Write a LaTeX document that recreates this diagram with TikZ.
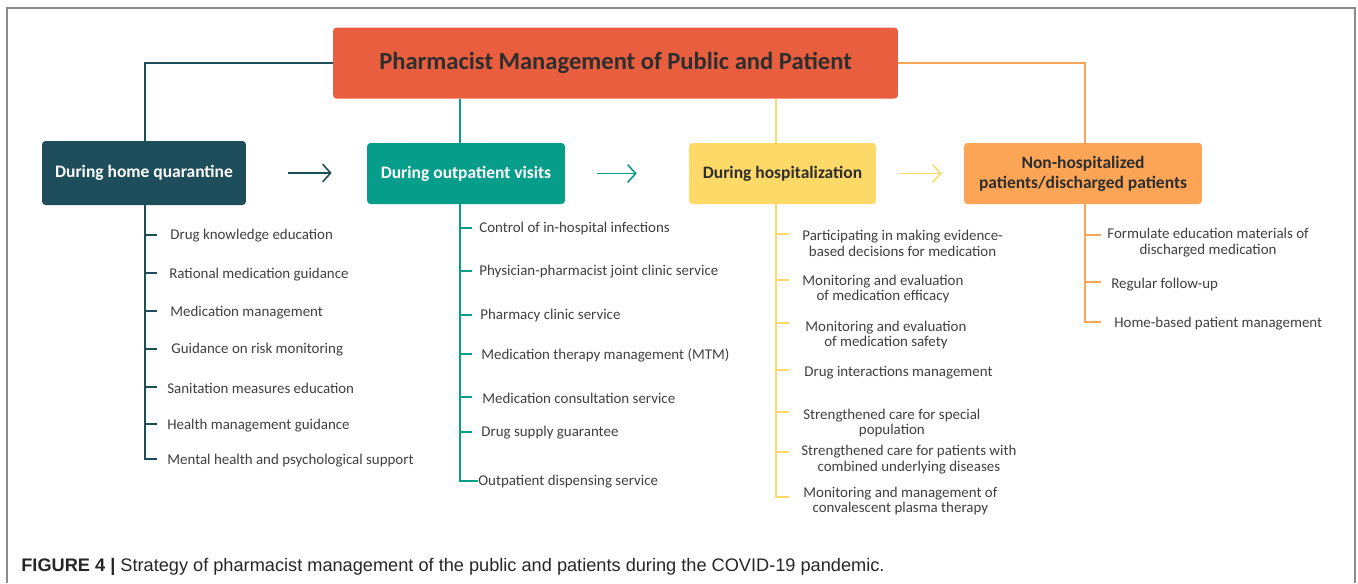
\documentclass[tikz,border=0pt]{standalone}
\usepackage{fontspec}
\setmainfont{Carlito}
\newfontfamily\capfont{Liberation Sans}
\usepackage{xcolor}
\usetikzlibrary{arrows.meta, positioning}

\definecolor{topred}{HTML}{E85E3F}
\definecolor{homeblue}{HTML}{1E4D5B}
\definecolor{outgreen}{HTML}{079D8B}
\definecolor{hospyellow}{HTML}{FDD968}
\definecolor{dischorange}{HTML}{FDA556}
\definecolor{itemgray}{HTML}{3F3F3F}
\definecolor{titlegray}{HTML}{2E2E2E}

\tikzset{
	phase/.style={fill=#1, rounded corners=2pt, inner sep=0pt, align=center,
		font=\fontsize{9.95}{11.5}\selectfont\bfseries},
	item/.style={anchor=west, inner sep=0pt, align=center, text=itemgray,
		font=\fontsize{8.5}{9.1}\selectfont},
	branch/.style={draw=#1, line width=1.1pt},
	step arrow/.style={draw=#1, line width=0.9pt, -{Straight Barb[length=4.5pt, width=10pt]}}
}

\begin{document}
\begin{tikzpicture}[x=0.02cm, y=-0.02cm]
		\useasboundingbox (0,0) rectangle (1358,583);
		\draw[gray!90, line width=0.9pt] (7,583) -- (7,8) -- (1355,8) -- (1355,583);
		
		\def\xa{145}
		\def\xb{460}
		\def\xc{776}
		\def\xd{1085}
		\coordinate (ca) at (\xa,0);
		\coordinate (cb) at (\xb,0);
		\coordinate (cc) at (\xc,0);
		\coordinate (cd) at (\xd,0);
		
		\node[fill=topred, rounded corners=2pt, minimum width=11.3cm, minimum height=1.42cm, text=titlegray,
			font=\fontsize{14}{16}\selectfont\bfseries] (top) at (615.5,63) {Pharmacist Management of Public and Patient};
		
		\node[phase=homeblue, text=white, minimum width=4.08cm, minimum height=1.28cm] (home) at (144,173) {During home quarantine};
		\node[phase=outgreen, text=white, minimum width=3.96cm, minimum height=1.22cm] (out) at (466,173.5) {During outpatient visits};
		\node[phase=hospyellow, text=titlegray, minimum width=3.74cm, minimum height=1.22cm] (hosp) at (782.5,173.5) {During hospitalization};
		\node[phase=dischorange, text=titlegray, minimum width=4.76cm, minimum height=1.22cm] (disch) at (1083,173.5) {Non-hospitalized\\patients/discharged patients};
		
		\begin{scope}[line width=1pt]
			\draw[homeblue] (top.west) -| (ca |- home.north);
			\draw[outgreen] (top.south -| cb) -- (out.north -| cb);
			\draw[hospyellow] (top.south -| cc) -- (hosp.north -| cc);
			\draw[dischorange] (top.east) -| (cd |- disch.north);
		\end{scope}
		
		\draw[step arrow=homeblue, shorten <=0.84cm, shorten >=0.7cm] (home.east) -- (out.west |- home.east);
		\draw[step arrow=outgreen, shorten <=0.64cm, shorten >=1.04cm] (out.east) -- (hosp.west);
		\draw[step arrow=hospyellow, shorten <=0.46cm, shorten >=0.44cm] (hosp.east) -- (disch.west);
		
		% during home quarantine
		\node[item] (q1) at (170,236) {Drug knowledge education};
		\node[item] (q2) at (169,275) {Rational medication guidance};
		\node[item] (q3) at (170,313) {Medication management};
		\node[item] (q4) at (171,350) {Guidance on risk monitoring};
		\node[item] (q5) at (167,388) {Sanitation measures education};
		\node[item] (q6) at (167,426) {Health management guidance};
		\node[item] (q7) at (167,461) {Mental health and psychological support};
		\begin{scope}[branch=homeblue]
			\draw (ca |- home.south) |- (157,459);
			\draw (\xa,235) -- ++(12,0);
			\draw (\xa,273) -- ++(12,0);
			\draw (\xa,311) -- ++(12,0);
			\draw (\xa,349) -- ++(12,0);
			\draw (\xa,387) -- ++(12,0);
			\draw (\xa,424) -- ++(12,0);
		\end{scope}
		
		% during outpatient visits
		\node[item] (v1) at (479,229) {Control of in-hospital infections};
		\node[item] (v2) at (479,272) {Physician-pharmacist joint clinic service};
		\node[item] (v3) at (480,316) {Pharmacy clinic service};
		\node[item] (v4) at (481,355) {Medication therapy management (MTM)};
		\node[item] (v5) at (482,398) {Medication consultation service};
		\node[item] (v6) at (481,433) {Drug supply guarantee};
		\node[item] (v7) at (478,482) {Outpatient dispensing service};
		\begin{scope}[branch=outgreen]
			\draw (cb |- out.south) |- (478,481);
			\draw (\xb,228) -- ++(12,0);
			\draw (\xb,271) -- ++(12,0);
			\draw (\xb,315) -- ++(12,0);
			\draw (\xb,354) -- ++(12,0);
			\draw (\xb,397) -- ++(12,0);
			\draw (\xb,432) -- ++(12,0);
		\end{scope}
		
		% during hospitalization
		\node[item] (h1) at (802,243) {Participating in making evidence-\\based decisions for medication};
		\node[item] (h2) at (802,289) {Monitoring and evaluation\\of medication efficacy};
		\node[item] (h3) at (805,335) {Monitoring and evaluation\\of medication safety};
		\node[item] (h4) at (804,373) {Drug interactions management};
		\node[item] (h5) at (803,423) {Strengthened care for special\\population};
		\node[item] (h6) at (801,460) {Strengthened care for patients with\\combined underlying diseases};
		\node[item] (h7) at (803,501) {Monitoring and management of\\convalescent plasma therapy};
		\begin{scope}[branch=hospyellow]
			\draw (cc |- hosp.south) |- (789,497);
			\draw (\xc,234) -- ++(13,0);
			\draw (\xc,280) -- ++(13,0);
			\draw (\xc,323) -- ++(13,0);
			\draw (\xc,370) -- ++(13,0);
			\draw (\xc,412) -- ++(13,0);
			\draw (\xc,452) -- ++(13,0);
		\end{scope}
		
		% non-hospitalized / discharged
		\node[item] (n1) at (1107,243) {Formulate education materials of\\discharged medication};
		\node[item] (n2) at (1111,285) {Regular follow-up};
		\node[item] (n3) at (1114,324) {Home-based patient management};
		\begin{scope}[branch=dischorange]
			\draw (cd |- disch.south) |- (1101,322);
			\draw (\xd,235) -- ++(16,0);
			\draw (\xd,282) -- ++(16,0);
		\end{scope}
		
		\node[anchor=west, inner sep=0pt, text=black!85, font=\capfont\fontsize{10.35}{12}\selectfont] (caption) at (21,567)
			{\textbf{FIGURE 4 |} Strategy of pharmacist management of the public and patients during the COVID-19 pandemic.};
	\end{tikzpicture}
\end{document}
